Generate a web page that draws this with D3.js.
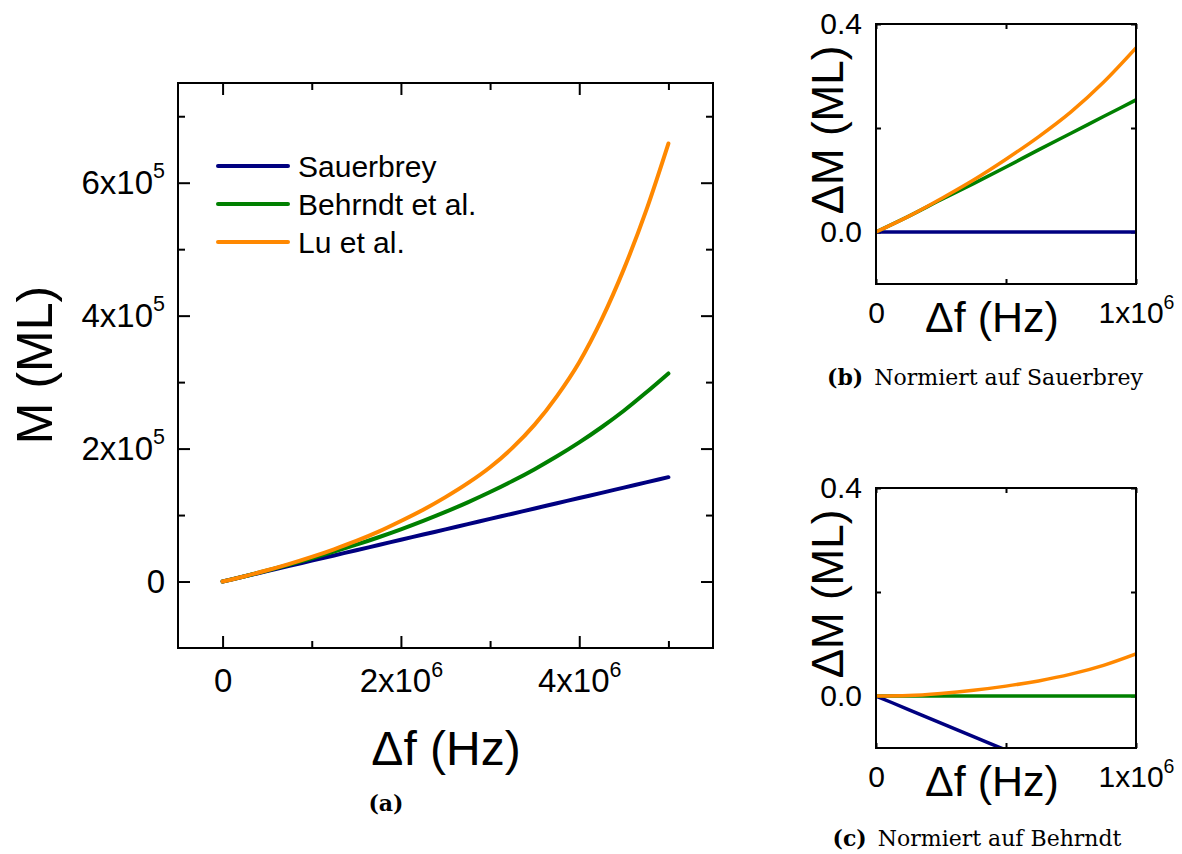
<!DOCTYPE html>
<html>
<head>
<meta charset="utf-8">
<script src="https://cdn.jsdelivr.net/npm/d3@7"></script>
<style>
  html, body { margin: 0; padding: 0; background: #fff; }
  svg { display: block; }
  .sans { font-family: "Liberation Sans", Arial, sans-serif; }
  .serif { font-family: "DejaVu Serif", "Liberation Serif", serif; }
</style>
</head>
<body>
<svg id="fig" width="1182" height="854"></svg>
<script>
// ---- Data -------------------------------------------------------------
// Main panel: mass thickness M (ML) versus frequency shift Δf (Hz)
const dfMain = [0, 0.25e6, 0.5e6, 0.75e6, 1e6, 1.25e6, 1.5e6, 1.75e6, 2e6, 2.25e6, 2.5e6,
                2.75e6, 3e6, 3.25e6, 3.5e6, 3.75e6, 4e6, 4.25e6, 4.5e6, 4.75e6, 5e6];
const mSauerbrey = [0, 7.85e3, 15.7e3, 23.55e3, 31.4e3, 39.25e3, 47.1e3, 54.95e3, 62.8e3, 70.65e3, 78.5e3,
                    86.35e3, 94.2e3, 102.05e3, 109.9e3, 117.75e3, 125.6e3, 133.45e3, 141.3e3, 149.15e3, 157e3];
const mBehrndt = [0, 8.0e3, 16.5e3, 25.4e3, 34.9e3, 44.9e3, 55.4e3, 66.6e3, 78.5e3, 91.2e3, 104.7e3,
                  119.1e3, 134.6e3, 151.2e3, 169.1e3, 188.4e3, 209.3e3, 232.1e3, 256.9e3, 284.3e3, 313e3];
const mLu = [0, 8e3, 17e3, 26.5e3, 37e3, 48.5e3, 61e3, 75e3, 91e3, 108e3, 127e3,
             148e3, 172e3, 201e3, 236e3, 279e3, 330e3, 394e3, 470e3, 558e3, 659e3];

// Small panels: ΔM (ML) versus Δf (Hz)
const dfSmall = [0, 0.125e6, 0.25e6, 0.375e6, 0.5e6, 0.625e6, 0.75e6, 0.875e6, 1e6];
// (b) relative to Sauerbrey
const bSauerbrey = [0, 0, 0, 0, 0, 0, 0, 0, 0];
const bBehrndt = [0, 0.030, 0.062, 0.093, 0.125, 0.158, 0.190, 0.222, 0.254];
const bLu = [0, 0.030, 0.064, 0.100, 0.140, 0.183, 0.231, 0.288, 0.354];
// (c) relative to Behrndt
const cSauerbrey = [0, -0.026, -0.052, -0.078, -0.104, -0.130, -0.155, -0.180, -0.205];
const cBehrndt = [0, 0, 0, 0, 0, 0, 0, 0, 0];
const cLu = [0, 0.001, 0.005, 0.011, 0.019, 0.029, 0.042, 0.059, 0.081];

const seriesNames = ["Sauerbrey", "Behrndt et al.", "Lu et al."];
const seriesColors = ["#000080", "#008000", "#ff8800"];

// Tick values and labels
const mainXTicks = [0, 2e6, 4e6];
const mainXMinor = [1e6, 3e6, 5e6];
const mainXLabels = [["0"], ["2x10", "6"], ["4x10", "6"]];
const mainYTicks = [0, 2e5, 4e5, 6e5];
const mainYMinor = [1e5, 3e5, 5e5, 7e5];
const mainYLabels = [["0"], ["2x10", "5"], ["4x10", "5"], ["6x10", "5"]];
const smallXTicks = [0, 0.5e6, 1e6];
const smallXLabels = [["0"], [""], ["1x10", "6"]];
const smallYTicks = [0, 0.2, 0.4];
const smallYLabels = [["0.0"], [""], ["0.4"]];

const captions = [
  { tag: "(a)", text: "" },
  { tag: "(b)", text: "Normiert auf Sauerbrey" },
  { tag: "(c)", text: "Normiert auf Behrndt" }
];

// ---- Drawing ----------------------------------------------------------
const svg = d3.select("#fig");

// writes "mantissa" + optional superscript exponent into an axis label
function labelWith(list, ticks) {
  return function (d) {
    const lab = list[ticks.indexOf(d)];
    const t = d3.select(this).text(null);
    t.append("tspan").text(lab[0]);
    if (lab[1]) t.append("tspan").attr("dy", "-0.72em").attr("font-size", "0.65em").text(lab[1]);
  };
}

function panel(opt) {
  const { left, top, width, height, xDomain, yDomain } = opt;
  const g = svg.append("g").attr("transform", `translate(${left},${top})`).attr("class", "sans");
  const x = d3.scaleLinear().domain(xDomain).range([0, width]);
  const y = d3.scaleLinear().domain(yDomain).range([height, 0]);

  const clipId = "clip" + opt.id;
  g.append("clipPath").attr("id", clipId)
    .append("rect").attr("width", width).attr("height", height);

  // inward major / minor ticks on all four sides
  const sides = [
    { ax: d3.axisBottom(x), tr: `translate(0,${height})`, ticks: opt.xTicks, minor: opt.xMinor, labels: opt.xLabels, fs: opt.tickFont, pad: opt.xPad },
    { ax: d3.axisTop(x), tr: "translate(0,0)", ticks: opt.xTicks, minor: opt.xMinor },
    { ax: d3.axisLeft(y), tr: "translate(0,0)", ticks: opt.yTicks, minor: opt.yMinor, labels: opt.yLabels, fs: opt.tickFont, pad: opt.yPad },
    { ax: d3.axisRight(y), tr: `translate(${width},0)`, ticks: opt.yTicks, minor: opt.yMinor }
  ];
  sides.forEach(s => {
    const major = g.append("g").attr("transform", s.tr)
      .call(s.ax.tickValues(s.ticks).tickSize(-opt.majorLen).tickPadding(s.pad || 0).tickFormat(() => ""));
    major.select(".domain").remove();
    major.selectAll("line").attr("stroke", "#000").attr("stroke-width", opt.frameW);
    if (s.labels) {
      major.selectAll(".tick text")
        .attr("font-size", s.fs).attr("fill", "#000")
        .attr("font-family", '"Liberation Sans", Arial, sans-serif')
        .each(labelWith(s.labels, s.ticks));
    } else {
      major.selectAll(".tick text").remove();
    }
    if (s.minor && s.minor.length) {
      const mAx = s.ax.tickValues(s.minor).tickSize(-opt.minorLen).tickFormat(() => "");
      const mn = g.append("g").attr("transform", s.tr).call(mAx);
      mn.select(".domain").remove();
      mn.selectAll(".tick text").remove();
      mn.selectAll("line").attr("stroke", "#000").attr("stroke-width", opt.frameW);
    }
  });

  // curves
  const line = d3.line().x(d => x(d[0])).y(d => y(d[1])).curve(d3.curveMonotoneX);
  const cg = g.append("g").attr("clip-path", `url(#${clipId})`);
  opt.series.forEach((vals, i) => {
    cg.append("path")
      .datum(opt.xs.map((v, k) => [v, vals[k]]))
      .attr("fill", "none")
      .attr("stroke", seriesColors[i])
      .attr("stroke-width", opt.lineW)
      .attr("stroke-linecap", "round")
      .attr("stroke-linejoin", "round")
      .attr("d", line);
  });

  // frame
  g.append("rect").attr("width", width).attr("height", height)
    .attr("fill", "none").attr("stroke", "#000").attr("stroke-width", opt.frameW);

  // axis titles
  g.append("text").attr("x", opt.xTitle.x - left).attr("y", opt.xTitle.y - top)
    .attr("text-anchor", "middle").attr("font-size", opt.xTitle.size).text("Δf (Hz)");
  g.append("text")
    .attr("transform", `translate(${opt.yTitle.x - left},${opt.yTitle.y - top}) rotate(-90)`)
    .attr("text-anchor", "middle").attr("font-size", opt.yTitle.size).text(opt.yTitle.text);
  return { g, x, y };
}

// (a) main panel
const main = panel({
  id: "a", left: 178, top: 83, width: 535, height: 565,
  xDomain: [-0.5e6, 5.5e6], yDomain: [-1e5, 7.5e5],
  xs: dfMain, series: [mSauerbrey, mBehrndt, mLu],
  xTicks: mainXTicks, xMinor: mainXMinor, xLabels: mainXLabels,
  yTicks: mainYTicks, yMinor: mainYMinor, yLabels: mainYLabels,
  tickFont: 33, xPad: 21, yPad: 13,
  majorLen: 12, minorLen: 7, frameW: 2, lineW: 4,
  xTitle: { x: 446, y: 765, size: 48 },
  yTitle: { x: 52, y: 365, size: 50, text: "M (ML)" }
});

// legend
const leg = svg.append("g").attr("class", "sans");
seriesNames.forEach((name, i) => {
  const ly = 166 + i * 38;
  leg.append("line").attr("x1", 218).attr("x2", 288).attr("y1", ly).attr("y2", ly)
    .attr("stroke", seriesColors[i]).attr("stroke-width", 4).attr("stroke-linecap", "round");
  leg.append("text").attr("x", 298).attr("y", ly).attr("dy", "0.36em")
    .attr("font-size", 30).text(name);
});

// (b) and (c) small panels
const smallCommon = {
  width: 260, height: 260,
  xDomain: [0, 1e6], yDomain: [-0.1, 0.4],
  xs: dfSmall,
  xTicks: smallXTicks, xMinor: [], xLabels: smallXLabels,
  yTicks: smallYTicks, yMinor: [], yLabels: smallYLabels,
  tickFont: 30, xPad: 18, yPad: 14,
  majorLen: 5, minorLen: 0, frameW: 2, lineW: 3.5
};
panel(Object.assign({}, smallCommon, {
  id: "b", left: 876, top: 24,
  series: [bSauerbrey, bBehrndt, bLu],
  xTitle: { x: 992, y: 332, size: 43 },
  yTitle: { x: 843, y: 130, size: 44, text: "ΔM (ML)" }
}));
panel(Object.assign({}, smallCommon, {
  id: "c", left: 876, top: 488,
  series: [cSauerbrey, cBehrndt, cLu],
  xTitle: { x: 992, y: 796, size: 43 },
  yTitle: { x: 843, y: 594, size: 44, text: "ΔM (ML)" }
}));

// captions
const capPos = [[386, 811], [985, 385], [977, 846]];
captions.forEach((c, i) => {
  const t = svg.append("text").attr("class", "serif")
    .attr("x", capPos[i][0]).attr("y", capPos[i][1])
    .attr("text-anchor", "middle").attr("font-size", 22);
  t.append("tspan").attr("font-weight", "bold").text(c.tag);
  if (c.text) t.append("tspan").text("\u2002" + c.text);
});
</script>
</body>
</html>
